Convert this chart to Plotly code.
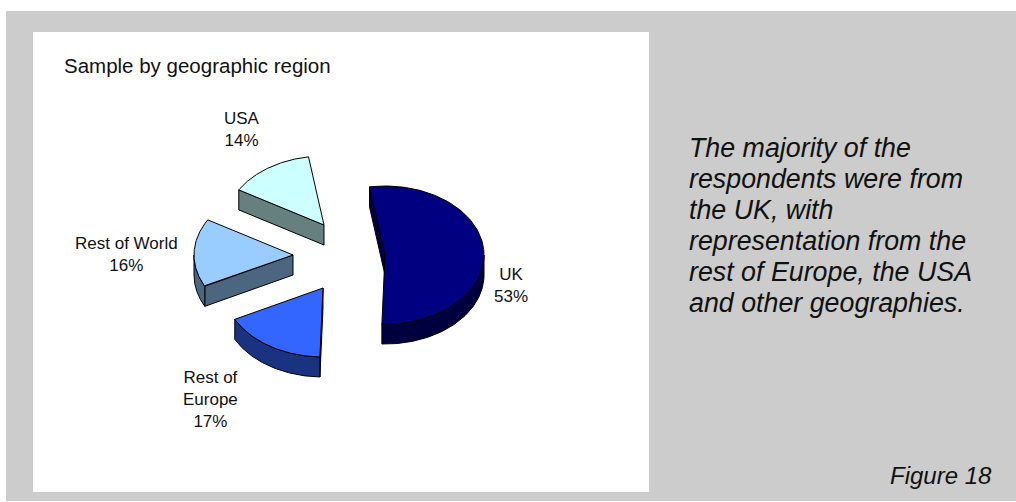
import numpy as np
import plotly.graph_objects as go

# Survey shares by region, clockwise from the first slice
regions = ["UK", "Rest of Europe", "Rest of World", "USA"]
shares = [53, 17, 16, 14]
label_names = ["UK", "Rest of<br>Europe", "Rest of World", "USA"]

top_colors = ["#000080", "#3366FF", "#99CCFF", "#CCFFFF"]
side_colors = ["#000040", "#1A3380", "#4C6680", "#668080"]

commentary = [
    "The majority of the",
    "respondents were from",
    "the UK, with",
    "representation from the",
    "rest of Europe, the USA",
    "and other geographies.",
]

# Projection of the tilted pie, in pixels of the page-sized axes
CX, CY = 339, 256
RX, RY = 99, 69
DEPTH = 20
START_ANGLE = -9
PULL_X = [46, -16, -46, -15]
PULL_Y = [-1, 32, -1, -31]
LABEL_POS = [(511, 285), (210, 399), (126, 254), (242, 129)]
FONT = "Liberation Sans, Arial, sans-serif"


def rim(ox, oy, deg):
    a = np.radians(deg)
    return ox + RX * np.sin(a), oy - RY * np.cos(a)


def polygon(xs, ys, color):
    return go.Scatter(
        x=list(xs), y=list(ys), mode="lines", fill="toself", fillcolor=color,
        line=dict(color="black", width=1), hoverinfo="skip", showlegend=False,
    )


def wall(x0, y0, x1, y1, color):
    # A flat cut face running down from the top edge (x0,y0)-(x1,y1)
    return polygon([x0, x1, x1, x0, x0],
                   [y0, y1, y1 + DEPTH, y0 + DEPTH, y0], color)


fig = go.Figure()
total = sum(shares)
angle = START_ANGLE

for i, share in enumerate(shares):
    sweep = 360 * share / total
    a0, a1 = angle, angle + sweep
    angle = a1
    ox, oy = CX + PULL_X[i], CY + PULL_Y[i]

    # Cut faces show only when their outward normal points towards the viewer
    sx, sy = rim(ox, oy, a0)
    if sx < ox:
        fig.add_trace(wall(sx, sy, ox, oy, side_colors[i]))
    ex, ey = rim(ox, oy, a1)
    if ex > ox or (ex < ox and ey > oy and sweep < 180 and a1 % 360 < 180):
        fig.add_trace(wall(ox, oy, ex, ey, side_colors[i]))

    # Outer wall: only the near half of the rim, 90 to 270 degrees
    lo, hi = max(a0, 90), min(a1, 270)
    if hi > lo:
        t = np.linspace(lo, hi, 80)
        wx, wy = rim(ox, oy, t)
        fig.add_trace(polygon(
            np.r_[wx, wx[::-1], wx[0]],
            np.r_[wy, wy[::-1] + DEPTH, wy[0]],
            side_colors[i],
        ))

    # Top face
    t = np.linspace(a0, a1, 120)
    tx, ty = rim(ox, oy, t)
    fig.add_trace(polygon(np.r_[ox, tx, ox], np.r_[oy, ty, oy], top_colors[i]))

    fig.add_annotation(
        x=LABEL_POS[i][0], y=LABEL_POS[i][1], text=f"{label_names[i]}<br>{share}%",
        showarrow=False, xanchor="center", yanchor="middle", align="center",
        font=dict(family=FONT, size=17, color="#111111"),
    )

fig.add_annotation(
    x=62, y=65, text="Sample by geographic region", showarrow=False,
    xanchor="left", yanchor="middle", font=dict(family=FONT, size=20.5, color="#111111"),
)
for n, line in enumerate(commentary):
    fig.add_annotation(
        x=687, y=148 + n * 31, text=f"<i>{line}</i>", showarrow=False,
        xanchor="left", yanchor="middle", font=dict(family=FONT, size=26.8, color="#111111"),
    )
fig.add_annotation(
    x=994, y=475, text="<i>Figure 18</i>", showarrow=False,
    xanchor="right", yanchor="middle", font=dict(family=FONT, size=24, color="#111111"),
)

fig.update_layout(
    width=1016, height=502, autosize=False,
    margin=dict(l=0, r=0, t=0, b=0),
    paper_bgcolor="white", plot_bgcolor="white",
    xaxis=dict(range=[0, 1016], visible=False, fixedrange=True),
    yaxis=dict(range=[502, 0], visible=False, fixedrange=True),
    shapes=[
        dict(type="rect", xref="x", yref="y", x0=6, x1=1016, y0=11, y1=501,
             fillcolor="#CCCCCC", line_width=0, layer="below"),
        dict(type="rect", xref="x", yref="y", x0=33, x1=649, y0=32, y1=492,
             fillcolor="white", line_width=0, layer="below"),
    ],
)

fig.write_html("out.html", config=dict(displayModeBar=False))
